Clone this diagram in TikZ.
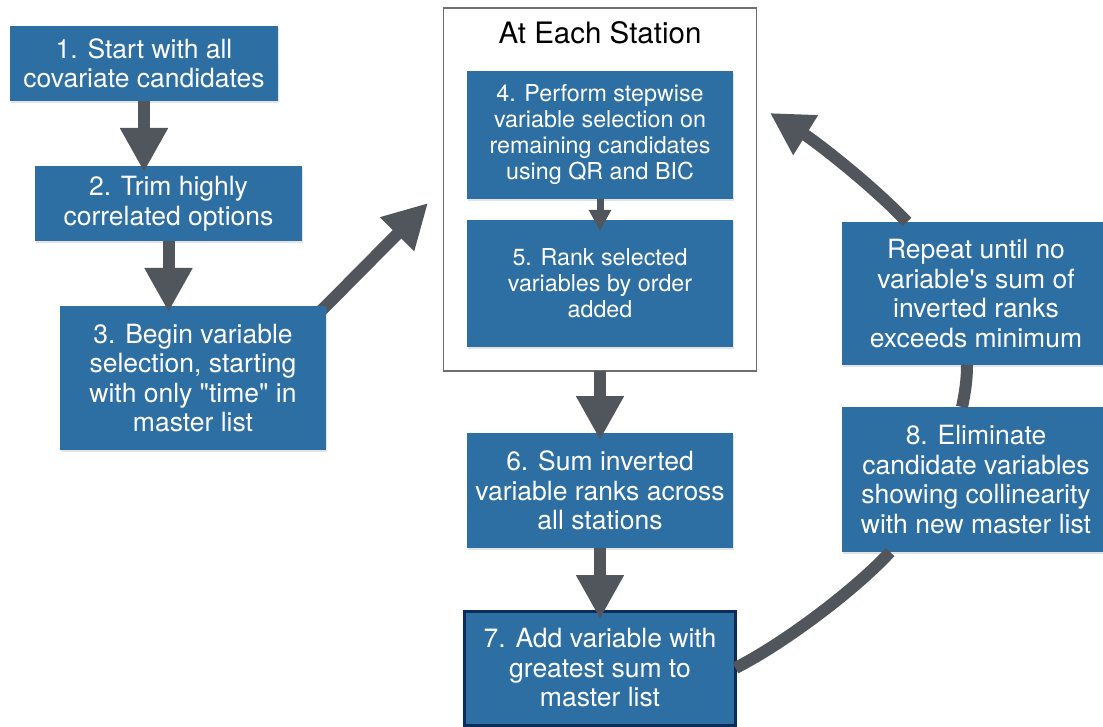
\documentclass[tikz,border=0pt]{standalone}
\usepackage{fontspec}
\setmainfont{TeX Gyre Heros}[Ligatures=TeXOff]
\usetikzlibrary{arrows.meta,backgrounds,shadows}
\definecolor{boxblue}{HTML}{2E6FA3}
\definecolor{arrowgray}{HTML}{51565D}
\definecolor{navyframe}{HTML}{0C2C5A}
\definecolor{framegray}{HTML}{6E6E6E}
\begin{document}
\begin{tikzpicture}[x=1pt,y=-1pt,
  stepbox/.style={fill=boxblue, text=white, inner sep=0pt, outer sep=0pt,
    align=center, font=\fontsize{26.5}{29.5}\selectfont,
    drop shadow={opacity=0.22,shadow xshift=1pt,shadow yshift=-2pt}},
  smallbox/.style={stepbox, font=\fontsize{23.3}{26}\selectfont},
  bigarrow/.style={draw=arrowgray, line width=12pt, -{Triangle[width=45pt,length=44pt]}},
  smallarrow/.style={draw=arrowgray, line width=7pt, -{Triangle[width=21pt,length=21pt]}},
  curveline/.style={draw=arrowgray, line width=12pt},
  curvearrow/.style={curveline, -{Triangle[width=44pt,length=42pt]}}
]
\useasboundingbox (0,0) rectangle (1103,727);

% frame around per-station steps
\node[draw=framegray, line width=1.5pt, minimum width=313pt, minimum height=363pt,
      inner sep=0pt, outer sep=0pt] (station) at (600,189.5) {};
\node[font=\fontsize{29.5}{34}\selectfont, inner sep=0pt] (title) at (600,33) {At Each Station};

% boxes
\node[stepbox, minimum width=268pt, minimum height=75pt] (b1) at (144,63.5)
  {1. Start with all\\covariate candidates};
\node[stepbox, minimum width=267pt, minimum height=75pt] (b2) at (168.5,203.5)
  {2. Trim highly\\correlated options};
\node[stepbox, minimum width=266pt, minimum height=144pt] (b3) at (193,378)
  {3. Begin variable\\selection, starting\\with only "time" in\\master list};
\node[smallbox, minimum width=266pt, minimum height=128pt] (b4) at (600,135)
  {4. Perform stepwise\\variable selection on\\remaining candidates\\using QR and BIC};
\node[smallbox, minimum width=266pt, minimum height=127pt] (b5) at (600,283.5)
  {5. Rank selected\\variables by order\\added};
\node[stepbox, minimum width=266pt, minimum height=115pt] (b6) at (600,490.5)
  {6. Sum inverted\\variable ranks across\\all stations};
\node[stepbox, draw=navyframe, line width=3pt, minimum width=271pt, minimum height=114pt] (b7) at (600,668)
  {7. Add variable with\\greatest sum to\\master list};
\node[stepbox, minimum width=268pt, minimum height=145pt] (b8) at (976,479.5)
  {8. Eliminate\\candidate variables\\showing collinearity\\with new master list};
\node[stepbox, minimum width=268pt, minimum height=143pt] (rep) at (976,293.5)
  {Repeat until no\\variable's sum of\\inverted ranks\\exceeds minimum};

\coordinate (tip3) at (428,203);
\coordinate (tipR) at (770,113);

% connectors
\begin{pgfonlayer}{background}
\fill[white] (0,0) rectangle (1103,727);
\draw[bigarrow] ([xshift=-8pt,yshift=-8pt]b3.north east) -- (tip3);
\end{pgfonlayer}
\draw[bigarrow, shorten >=-6pt] (b1.south) -- (b1.south |- b2.north);
\draw[bigarrow, shorten >=-6pt] (b2.south) -- (b2.south |- b3.north);
\draw[smallarrow, shorten >=-11pt] (b4.south) -- (b5.north);
\draw[bigarrow, shorten >=-7pt] (station.south) -- (b6.north);
\draw[bigarrow, shorten >=-8pt] (b6.south) -- (b7.north);
\draw[curveline] (b7.east) .. controls (790,640) and (860,585) .. ([xshift=-86pt]b8.south);
\draw[curveline] ([xshift=-14pt]b8.north) .. controls (965,393) and (967,380) .. ([xshift=-9pt]rep.south);
\draw[curvearrow] ([xshift=-69pt]rep.north) .. controls (872,185) and (815,141) .. (tipR);
\end{tikzpicture}
\end{document}
